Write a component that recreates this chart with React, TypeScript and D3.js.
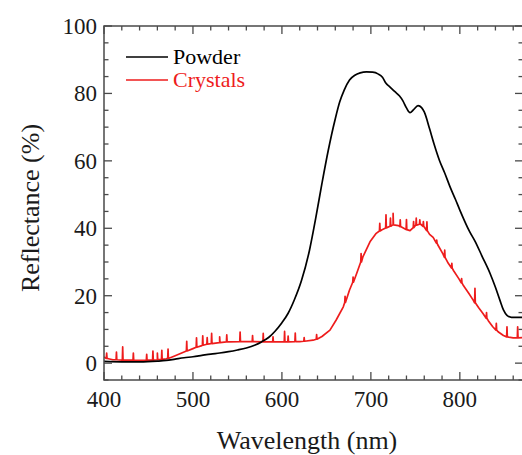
import React, { useEffect, useRef } from 'react';
import * as d3 from 'd3';

// Powder reflectance [wavelength nm, %]
const powder: [number, number][] = [
  [400, 0.5], [420, 0.4], [440, 0.4], [460, 0.6], [470, 0.8], [480, 1.2], [490, 1.6], [500, 1.9],
  [510, 2.3], [520, 2.7], [530, 3.0], [540, 3.4], [550, 3.9], [560, 4.5], [570, 5.4], [577, 6.3],
  [585, 7.6], [592, 9.4], [600, 12], [607, 14.8], [614, 18.8], [622, 24.5], [631, 33.5], [638, 43],
  [645, 53.3], [652, 63], [660, 72.5], [665, 77.5], [670, 81], [676, 84], [682, 85.4], [688, 86.1],
  [695, 86.4], [702, 86.3], [708, 85.8], [713, 84.8], [717, 83], [721, 82], [727, 80.5], [732, 79.3],
  [736, 77.8], [740, 75.7], [744, 74.3], [748, 75.2], [753, 76.4], [757, 75.8], [760, 74.5],
  [766, 69.5], [771, 65], [777, 60.2], [783, 56.4], [789, 52.3], [795, 48.6], [800, 45.4],
  [811, 39], [817, 36.2], [825, 31.7], [834, 26.6], [840, 22.5], [845, 18.7], [849, 15.8],
  [853, 14.2], [858, 13.6], [871, 13.6]
];

// Crystals reflectance, smooth part [wavelength nm, %]
const crystals: [number, number][] = [
  [400, 1.8], [405, 1.3], [410, 1.0], [420, 0.9], [430, 0.9], [440, 0.8], [450, 0.9], [460, 1.0],
  [470, 1.3], [480, 2.2], [490, 3.3], [500, 4.3], [510, 5.2], [520, 5.8], [530, 6.1], [540, 6.3],
  [560, 6.4], [580, 6.3], [600, 6.3], [620, 6.4], [635, 6.8], [645, 7.9], [654, 9.8], [661, 12.8],
  [669, 16.7], [676, 21.7], [684, 26.6], [691, 31.5], [699, 36], [706, 38.5], [712, 39.5],
  [718, 40.2], [725, 41], [731, 40.8], [737, 40], [744, 39.3], [750, 40.8], [756, 41.2],
  [760, 40.4], [766, 38.2], [770, 37.3], [775, 35.2], [781, 32.4], [787, 29.6], [793, 27.4],
  [799, 25], [804, 23], [810, 20.7], [815, 18.7], [821, 16.5], [826, 14.7], [832, 12.6],
  [837, 10.8], [843, 9.3], [849, 8.2], [855, 7.7], [860, 7.5], [871, 7.6]
];

// Crystals noise spikes [wavelength nm, base %, peak %]
const crystalSpikes: [number, number, number][] = [
  [403, 1.4, 3.0], [414, 1.0, 3.3], [421, 0.9, 4.8], [433, 0.9, 3.0], [448, 0.9, 2.6],
  [455, 0.9, 3.6], [460, 1.0, 3.0], [465, 1.1, 3.8], [472, 1.4, 4.2], [493, 3.6, 6.5],
  [504, 4.7, 7.5], [511, 5.3, 8.1], [516, 5.6, 7.6], [521, 5.8, 8.8], [530, 6.1, 7.8],
  [538, 6.3, 8.4], [553, 6.4, 9.2], [567, 6.4, 8.2], [579, 6.3, 8.8], [590, 6.3, 7.8],
  [603, 6.3, 9.4], [607, 6.3, 8.0], [615, 6.4, 8.9], [625, 6.5, 7.6], [639, 7.1, 8.5],
  [671, 18, 19.8], [680, 24, 25.5], [689, 30, 32.5], [710, 39.2, 41.5], [717, 40.1, 44],
  [722, 40.6, 43], [725, 41, 44.4], [733, 40.5, 42.5], [740, 39.6, 42.6], [748, 40.2, 42],
  [751, 40.9, 43], [755, 41.2, 42.5], [759, 40.6, 42], [763, 39.3, 41.9], [774, 35.6, 36.5],
  [783, 31.4, 33.5], [791, 28.2, 29.6], [802, 23.8, 25.1], [817, 17.9, 22.2], [830, 13.3, 15],
  [841, 9.8, 11.8], [853, 7.8, 10.8], [865, 7.5, 10.8]
];

const xTicks = [400, 500, 600, 700, 800];
const yTicks = [0, 20, 40, 60, 80, 100];

const legendItems = [
  { label: 'Powder', color: '#000000' },
  { label: 'Crystals', color: '#ee1c1c' }
];

const width = 522;
const height = 455;

const App = () => {
  const svgRef = useRef<SVGSVGElement | null>(null);

  useEffect(() => {
    if (!svgRef.current) return;
    const svg = d3.select(svgRef.current);
    svg.selectAll('*').remove();

    const left = 104, right = 523, top = 26, bottom = 380;
    const x = d3.scaleLinear().domain([400, 871]).range([left, right]);
    const y = d3.scaleLinear().domain([-5, 100]).range([bottom, top]);
    const axisColor = '#4a4a4a';
    const font = '"Liberation Serif", "Times New Roman", serif';

    svg.append('defs').append('clipPath').attr('id', 'plotclip')
      .append('rect').attr('x', left).attr('y', top)
      .attr('width', right - left).attr('height', bottom - top);

    // crystals series with spikes merged in
    const crystalPts: [number, number][] = [...crystals];
    crystalSpikes.forEach(([w, b, p]) => {
      crystalPts.push([w - 0.4, b], [w, p], [w + 0.4, b]);
    });
    crystalPts.sort((a, b) => a[0] - b[0]);

    const line = d3.line<[number, number]>()
      .x(d => x(d[0]))
      .y(d => y(d[1]));

    const g = svg.append('g').attr('clip-path', 'url(#plotclip)');
    g.append('path').datum(crystalPts)
      .attr('d', line).attr('fill', 'none')
      .attr('stroke', '#ee1c1c').attr('stroke-width', 1.7)
      .attr('stroke-linejoin', 'round');
    g.append('path').datum(powder)
      .attr('d', d3.line<[number, number]>().x(d => x(d[0])).y(d => y(d[1])).curve(d3.curveMonotoneX))
      .attr('fill', 'none')
      .attr('stroke', '#000').attr('stroke-width', 1.7);

    // frame
    svg.append('rect')
      .attr('x', left).attr('y', top)
      .attr('width', right - left).attr('height', bottom - top)
      .attr('fill', 'none').attr('stroke', axisColor).attr('stroke-width', 1.5);

    const xMinor = d3.range(400, 871, 20);
    const yMinor = d3.range(-5, 101, 5);

    // inward ticks on all four sides
    const tg = svg.append('g').attr('stroke', axisColor).attr('stroke-width', 1.3);
    xMinor.forEach(v => {
      const len = v % 100 === 0 ? 8 : 4.5;
      tg.append('line').attr('x1', x(v)).attr('x2', x(v)).attr('y1', bottom).attr('y2', bottom - len);
      tg.append('line').attr('x1', x(v)).attr('x2', x(v)).attr('y1', top).attr('y2', top + len);
    });
    yMinor.forEach(v => {
      const len = v % 20 === 0 ? 8 : 4.5;
      tg.append('line').attr('x1', left).attr('x2', left + len).attr('y1', y(v)).attr('y2', y(v));
      tg.append('line').attr('x1', right).attr('x2', right - len).attr('y1', y(v)).attr('y2', y(v));
    });

    // tick labels
    svg.append('g').selectAll('text').data(xTicks).join('text')
      .attr('x', d => x(d)).attr('y', 407)
      .attr('text-anchor', 'middle')
      .attr('font-family', font).attr('font-size', 23).attr('fill', '#1a1a1a')
      .text(d => d);
    svg.append('g').selectAll('text').data(yTicks).join('text')
      .attr('x', left - 7).attr('y', d => y(d) + 8)
      .attr('text-anchor', 'end')
      .attr('font-family', font).attr('font-size', 23).attr('fill', '#1a1a1a')
      .text(d => d);

    // axis titles
    svg.append('text')
      .attr('x', 307).attr('y', 449)
      .attr('text-anchor', 'middle')
      .attr('font-family', font).attr('font-size', 26).attr('fill', '#1a1a1a')
      .text('Wavelength (nm)');
    svg.append('text')
      .attr('transform', `translate(39, ${208}) rotate(-90)`)
      .attr('text-anchor', 'middle')
      .attr('font-family', font).attr('font-size', 26).attr('fill', '#1a1a1a')
      .text('Reflectance (%)');

    // legend
    legendItems.forEach((d, i) => {
      const ly = 57 + i * 23;
      svg.append('line')
        .attr('x1', 126).attr('x2', 168).attr('y1', ly).attr('y2', ly)
        .attr('stroke', d.color).attr('stroke-width', 1.5);
      svg.append('text')
        .attr('x', 173).attr('y', ly + 7)
        .attr('font-family', font).attr('font-size', 22).attr('fill', d.color)
        .text(d.label);
    });
  }, []);

  return (
    <div style={{ position: 'absolute', left: 0, top: 0, width, height, background: '#fff' }}>
      <svg ref={svgRef} width={width} height={height} style={{ display: 'block' }}></svg>
    </div>
  );
};

export default App;
